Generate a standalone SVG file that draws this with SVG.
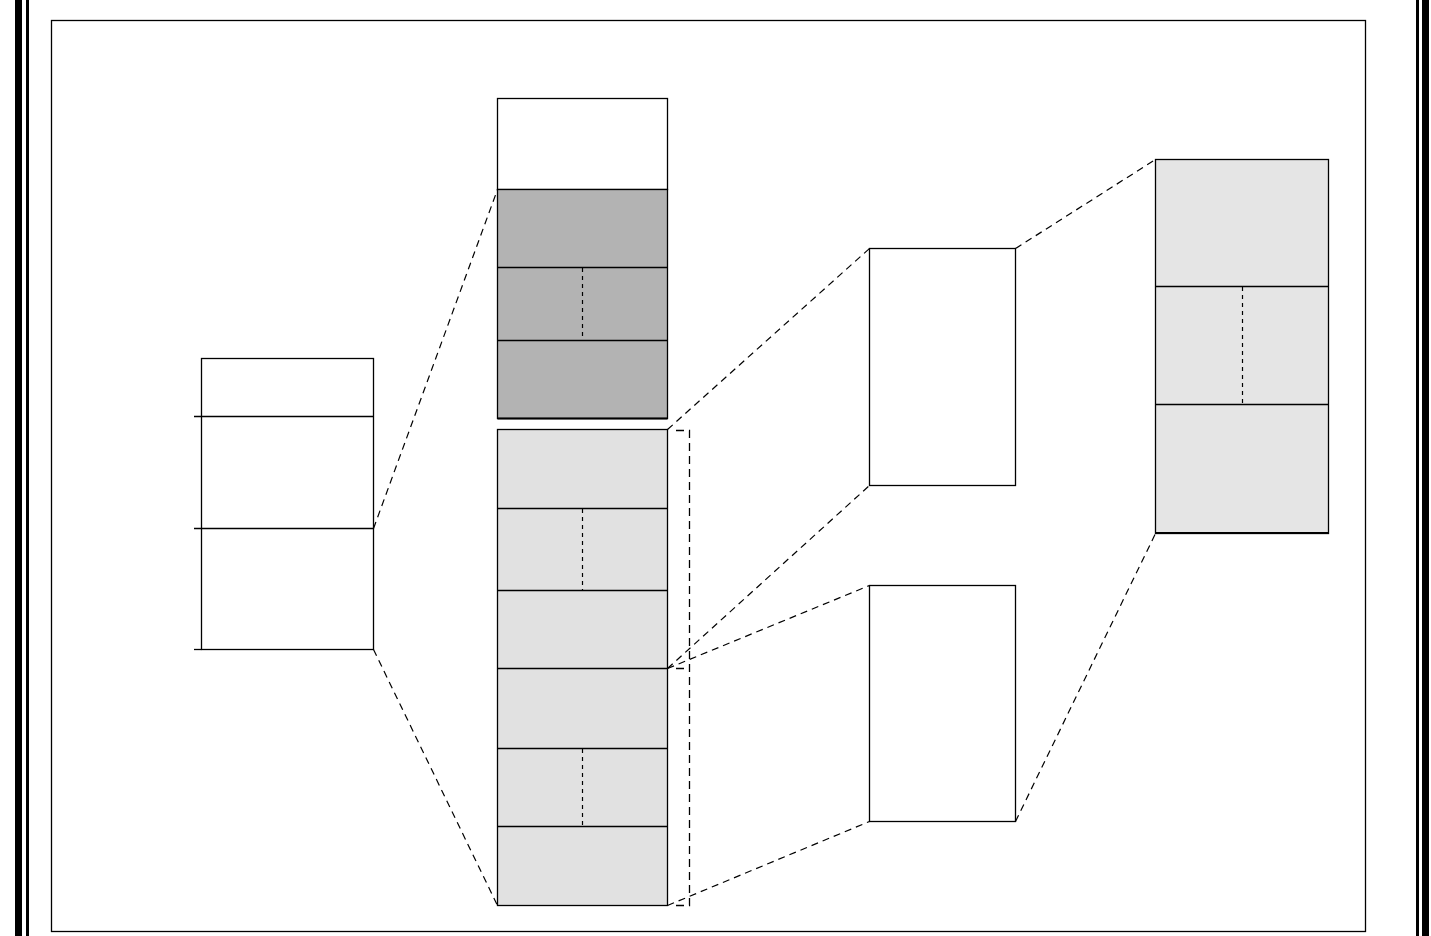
<svg xmlns="http://www.w3.org/2000/svg" width="1431" height="936" viewBox="0 0 1431 936">
<style>
.box{stroke:#000;stroke-width:1.3;}
.ln{stroke:#000;stroke-width:1.3;fill:none;}
.dv{stroke:#000;stroke-width:1.2;stroke-dasharray:4,4;fill:none;}
.conn{stroke:#000;stroke-width:1.2;stroke-dasharray:7,5;fill:none;}
.br{stroke:#000;stroke-width:1.3;stroke-dasharray:8,5;fill:none;}
</style>
<rect width="1431" height="936" fill="#fff"/>
<g id="frame">
<rect x="15" y="0" width="7" height="936" fill="#000"/>
<rect x="26" y="0" width="3" height="936" fill="#000"/>
<rect x="1416" y="0" width="3" height="936" fill="#000"/>
<rect x="1422" y="0" width="7" height="936" fill="#000"/>
<rect x="51.5" y="20.5" width="1314" height="911" class="ln"/>
</g>
<g id="left-block">
<rect x="201.5" y="358.5" width="172" height="291" class="box" fill="#fff"/>
<line x1="194" y1="416.5" x2="373.5" y2="416.5" class="ln"/>
<line x1="194" y1="528.5" x2="373.5" y2="528.5" class="ln"/>
<line x1="194" y1="649.5" x2="201.5" y2="649.5" class="ln"/>
</g>
<g id="mid-top">
<rect x="497.5" y="98.5" width="170" height="91" class="box" fill="#fff"/>
<rect x="497.5" y="189.5" width="170" height="229" class="box" fill="#b3b3b3"/>
<line x1="497.5" y1="418.5" x2="667.5" y2="418.5" stroke="#000" stroke-width="2"/>
<line x1="497.5" y1="267.5" x2="667.5" y2="267.5" class="ln"/>
<line x1="497.5" y1="340.5" x2="667.5" y2="340.5" class="ln"/>
<line x1="582.5" y1="268" x2="582.5" y2="340" class="dv"/>
</g>
<g id="mid-bottom">
<rect x="497.5" y="429.5" width="170" height="476" class="box" fill="#e1e1e1"/>
<line x1="497.5" y1="508.5" x2="667.5" y2="508.5" class="ln"/>
<line x1="497.5" y1="590.5" x2="667.5" y2="590.5" class="ln"/>
<line x1="497.5" y1="668.5" x2="667.5" y2="668.5" class="ln"/>
<line x1="497.5" y1="748.5" x2="667.5" y2="748.5" class="ln"/>
<line x1="497.5" y1="826.5" x2="667.5" y2="826.5" class="ln"/>
<line x1="582.5" y1="509" x2="582.5" y2="590" class="dv"/>
<line x1="582.5" y1="749" x2="582.5" y2="826" class="dv"/>
</g>
<g id="bracket">
<polyline points="676,430.5 689.5,430.5 689.5,905.5 676,905.5" class="br"/>
<line x1="676" y1="668.5" x2="689.5" y2="668.5" class="br"/>
</g>
<g id="box-upper">
<rect x="869.5" y="248.5" width="146" height="237" class="box" fill="#fff"/>
</g>
<g id="box-lower">
<rect x="869.5" y="585.5" width="146" height="236" class="box" fill="#fff"/>
</g>
<g id="right-block">
<rect x="1155.5" y="159.5" width="173" height="374" class="box" fill="#e5e5e5"/>
<line x1="1155.5" y1="533" x2="1328.5" y2="533" stroke="#000" stroke-width="2"/>
<line x1="1155.5" y1="286.5" x2="1328.5" y2="286.5" class="ln"/>
<line x1="1155.5" y1="404.5" x2="1328.5" y2="404.5" class="ln"/>
<line x1="1242.5" y1="287" x2="1242.5" y2="404" class="dv"/>
</g>
<g id="connectors">
<line x1="373.5" y1="528.5" x2="497.5" y2="189.5" class="conn"/>
<line x1="373.5" y1="649.5" x2="497.5" y2="905.5" class="conn"/>
<line x1="667.5" y1="429.5" x2="869.5" y2="248.5" class="conn"/>
<line x1="667.5" y1="668.5" x2="869.5" y2="485.5" class="conn"/>
<line x1="667.5" y1="668.5" x2="869.5" y2="585.5" class="conn"/>
<line x1="667.5" y1="905.5" x2="869.5" y2="821.5" class="conn"/>
<line x1="1015.5" y1="248.5" x2="1155.5" y2="159.5" class="conn"/>
<line x1="1015.5" y1="821.5" x2="1155.5" y2="533.5" class="conn"/>
</g>
</svg>
